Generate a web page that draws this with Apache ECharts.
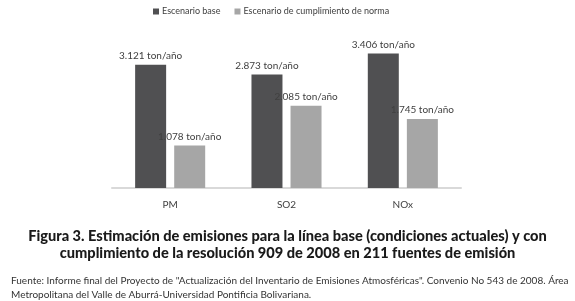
<!DOCTYPE html>
<html>
<head>
<meta charset="utf-8">
<script src="https://cdn.jsdelivr.net/npm/echarts@6/dist/echarts.min.js"></script>
<style>
  html, body { margin: 0; padding: 0; background: #fff; }
  #chart { width: 575px; height: 301px; }
</style>
</head>
<body>
<div id="chart"></div>
<script>
// datos
const categories = ['PM', 'SO2', 'NOx'];
const seriesNames = ['Escenario base', 'Escenario de cumplimiento de norma'];
const baseValues = [3.121, 2.873, 3.406];
const normaValues = [1.078, 2.085, 1.745];

const titleText = 'Figura 3. Estimación de emisiones para la línea base (condiciones actuales) y con\ncumplimiento de la resolución 909 de 2008 en 211 fuentes de emisión';
const sourceText = 'Fuente: Informe final del Proyecto de "Actualización del Inventario de Emisiones Atmosféricas". Convenio No 543 de 2008. Área\nMetropolitana del Valle de Aburrá-Universidad Pontificia Bolivariana.';

const chart = echarts.init(document.getElementById('chart'));

// etiqueta con formato "3.121 ton/año"
const labelCfg = {
  show: true,
  position: 'top',
  distance: 4,
  fontFamily: 'Lato',
  fontSize: 10,
  color: '#404040',
  formatter: p => p.value.toFixed(3) + ' ton/año'
};

const option = {
  animation: false,
  textStyle: { fontFamily: 'Lato' },
  title: [
    {
      text: titleText,
      left: 'center',
      top: 223,
      textStyle: {
        fontFamily: 'Lato',
        fontWeight: 900,
        fontSize: 14.6,
        lineHeight: 17,
        color: '#1a1a1a',
        align: 'center'
      }
    },
    {
      text: sourceText,
      left: 6,
      top: 269,
      textStyle: {
        fontFamily: 'Lato',
        fontWeight: 'normal',
        fontSize: 10,
        lineHeight: 14,
        color: '#333'
      }
    }
  ],
  legend: {
    top: 2,
    left: 148,
    itemWidth: 6,
    itemHeight: 6,
    itemGap: 14,
    icon: 'rect',
    textStyle: { fontFamily: 'Lato', fontSize: 9, color: '#404040', padding: [0, 0, 0, -2] },
    data: seriesNames
  },
  grid: {
    left: 112,
    right: 114,
    top: 30,
    bottom: 113
  },
  xAxis: {
    type: 'category',
    data: categories,
    axisTick: { show: false },
    axisLine: { lineStyle: { color: '#d9d9d9', width: 2 } },
    axisLabel: {
      fontFamily: 'Lato',
      fontSize: 10,
      color: '#404040',
      margin: 12
    }
  },
  yAxis: {
    type: 'value',
    min: 0,
    max: 4,
    show: false
  },
  series: [
    {
      name: seriesNames[0],
      type: 'bar',
      barWidth: 31,
      barGap: '26%',
      itemStyle: { color: '#505052' },
      label: labelCfg,
      data: baseValues
    },
    {
      name: seriesNames[1],
      type: 'bar',
      barWidth: 31,
      itemStyle: { color: '#a6a6a6' },
      label: labelCfg,
      data: normaValues
    }
  ]
};

chart.setOption(option);
</script>
</body>
</html>
